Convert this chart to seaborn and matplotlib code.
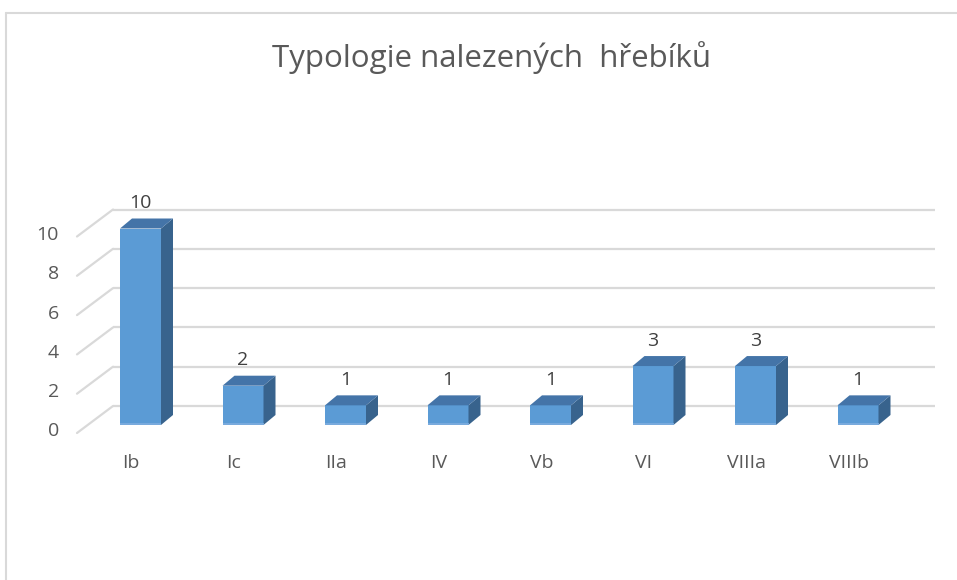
import matplotlib
matplotlib.use("Agg")
import matplotlib.pyplot as plt
import seaborn as sns
import numpy as np
from matplotlib.patches import Polygon
from matplotlib.lines import Line2D

categories = ["Ib", "Ic", "IIa", "IV", "Vb", "VI", "VIIIa", "VIIIb"]
values = [10, 2, 1, 1, 1, 3, 3, 1]
yticks = [0, 2, 4, 6, 8, 10]
title = "Typologie nalezených  hřebíků"

sns.set_theme(style="white")
plt.rcParams["font.family"] = ["Open Sans", "DejaVu Sans"]

TXT = "#595959"
GRID = "#D9D9D9"
FRONT = "#5B9BD5"
SIDE = "#38638D"
TOP = "#4474A8"

W, H = 957, 580
fig = plt.figure(figsize=(W / 100, H / 100), dpi=100)
ax = fig.add_axes([0, 0, 1, 1])

# pixel mapping: x_px = 140.5 + 102.5*i ; y_px = 425 - 19.65*v
x0px, xs = 140.5, 102.5
y0px, ys = 425.0, 19.65

def px2x(p):
    return (p - x0px) / xs

def px2y(p):
    return (y0px - p) / ys

sns.barplot(x=categories, y=values, ax=ax, color=FRONT, width=0.4,
            saturation=1, zorder=3, linewidth=0)
ax.set_xlim(px2x(0), px2x(W))
ax.set_ylim(px2y(H), px2y(0))
ax.axis("off")

# back wall gridlines and left wall diagonals
back_dy = 19 / ys
gx0, gx1 = px2x(113), px2x(935)
wall_x = px2x(77)
wall_dy = -27 / ys
for t in yticks:
    yb = t + back_dy
    ax.plot([gx0, gx1], [yb, yb], color=GRID, lw=1.6, zorder=1,
            solid_capstyle="butt")
    ax.plot([wall_x, gx0], [yb + wall_dy, yb], color=GRID, lw=1.6, zorder=1)
    ax.text(px2x(59), t - 0.33, str(t), ha="right", va="center",
            fontsize=14, color=TXT)

# 3D faces for bars
ddx = 12 / xs
ddy = 10 / ys
for p, v in zip(ax.patches, values):
    xa = p.get_x()
    xb = xa + p.get_width()
    side = Polygon([(xb, 0), (xb + ddx, ddy), (xb + ddx, v + ddy), (xb, v)],
                   closed=True, facecolor=SIDE, edgecolor="none", zorder=3)
    top = Polygon([(xa, v), (xa + ddx, v + ddy), (xb + ddx, v + ddy), (xb, v)],
                  closed=True, facecolor=TOP, edgecolor="none", zorder=3)
    ax.add_patch(side)
    ax.add_patch(top)
    ax.plot([xa, xb], [0.03, 0.03], color="#7FAEDF", lw=1.2, zorder=4,
            solid_capstyle="butt")
    ax.text(xa + p.get_width() / 2, v + 1.3, str(v), ha="center",
            va="center", fontsize=14, color="#404040")

for i, c in enumerate(categories):
    ax.text(i - 0.09, px2y(463), c, ha="center", va="center",
            fontsize=14, color=TXT)

fig.text(491 / W, 1 - 58 / H, title, ha="center", va="center",
         fontsize=22.5, color=TXT)

# chart border (top and left)
fig.add_artist(Line2D([6 / W, 1], [1 - 13 / H, 1 - 13 / H],
                      color=GRID, lw=1.5, transform=fig.transFigure))
fig.add_artist(Line2D([6 / W, 6 / W], [0, 1 - 13 / H],
                      color=GRID, lw=1.5, transform=fig.transFigure))

fig.savefig("out.png", dpi=100)
